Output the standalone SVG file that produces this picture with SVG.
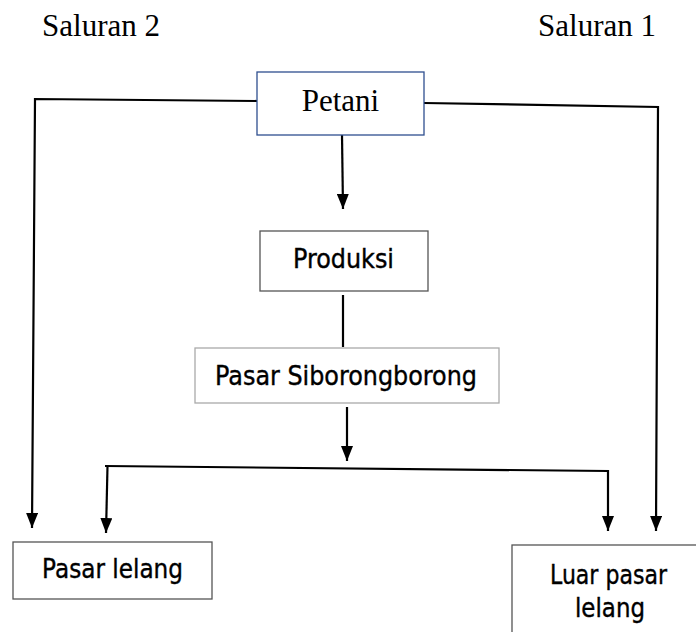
<svg xmlns="http://www.w3.org/2000/svg" width="696" height="632" viewBox="0 0 696 632">
<style>
.serif{font-family:"Liberation Serif","Times New Roman",serif;font-size:31px;fill:#000}
.sans{font-family:"DejaVu Sans",sans-serif;font-size:26px;fill:#000;stroke:#000;stroke-width:0.4}
.box{fill:#fff;stroke:#555;stroke-width:1.3}
.ln{fill:none;stroke:#000;stroke-width:2.2}
</style>
<defs>
<marker id="arr" viewBox="0 0 15 12" markerWidth="15" markerHeight="12" refX="15" refY="6" orient="auto" markerUnits="userSpaceOnUse">
<path d="M0,0 L15,6 L0,12 z" fill="#000"/>
</marker>
</defs>
<g id="labels">
<text class="serif" x="101" y="36" text-anchor="middle">Saluran 2</text>
<text class="serif" x="597" y="36" text-anchor="middle">Saluran 1</text>
</g>
<g id="connectors">
<polyline class="ln" points="257,101 35,99 32,528" marker-end="url(#arr)"/>
<polyline class="ln" points="424,103 658,107 656,531" marker-end="url(#arr)"/>
<line class="ln" x1="342" y1="135" x2="343" y2="209" marker-end="url(#arr)"/>
<line class="ln" x1="343" y1="295" x2="343" y2="347"/>
<line class="ln" x1="347" y1="407" x2="347" y2="461" marker-end="url(#arr)"/>
<polyline class="ln" points="105,466 608,471 608,531" marker-end="url(#arr)"/>
<line class="ln" x1="107.5" y1="466" x2="106" y2="533" marker-end="url(#arr)"/>
</g>
<g id="petani">
<rect x="257" y="72" width="167" height="63" fill="#fff" stroke="#2f4f8f" stroke-width="1.3"/>
<text class="serif" x="340.5" y="111" text-anchor="middle">Petani</text>
</g>
<g id="produksi">
<rect class="box" x="260" y="231" width="168" height="60"/>
<text class="sans" x="343.5" y="268" text-anchor="middle" textLength="101" lengthAdjust="spacingAndGlyphs">Produksi</text>
</g>
<g id="pasar-siborongborong">
<rect x="195" y="348" width="304" height="55" fill="#fff" stroke="#aaa" stroke-width="1.3"/>
<text class="sans" x="346" y="385" text-anchor="middle" textLength="262" lengthAdjust="spacingAndGlyphs">Pasar Siborongborong</text>
</g>
<g id="pasar-lelang">
<rect class="box" x="13" y="542" width="199" height="57"/>
<text class="sans" x="112.5" y="578" text-anchor="middle" textLength="141" lengthAdjust="spacingAndGlyphs">Pasar lelang</text>
</g>
<g id="luar-pasar-lelang">
<rect class="box" x="512" y="545" width="200" height="100"/>
<text class="sans" x="608.5" y="584" text-anchor="middle" textLength="117" lengthAdjust="spacingAndGlyphs">Luar pasar</text>
<text class="sans" x="610" y="617" text-anchor="middle" textLength="70" lengthAdjust="spacingAndGlyphs">lelang</text>
</g>
</svg>
